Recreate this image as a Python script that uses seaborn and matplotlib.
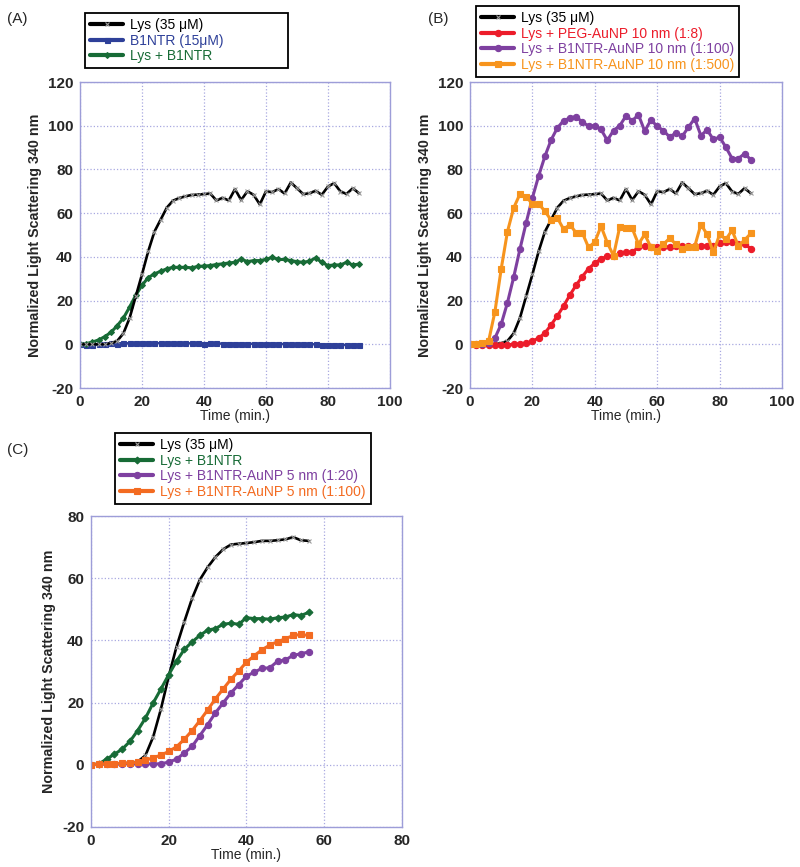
# Lysozyme aggregation kinetics, panels A-C
import matplotlib
matplotlib.use("Agg")
import matplotlib.pyplot as plt
import seaborn as sns

sns.set_style("white")
plt.rcParams['font.family'] = ['Liberation Sans', 'DejaVu Sans']
plt.rcParams['axes.unicode_minus'] = False

# time points (min.)
time_ab = list(range(0, 92, 2))
time_c = list(range(0, 58, 2))

# Panel A / B series
lys_35 = [0, 0, 0, 0, 0, 0.5, 1.5, 5, 12, 22,
          32, 42.5, 51.5, 57, 62.5, 65.7, 66.9, 67.7, 68.3, 68.5,
          68.7, 69, 65.8, 67, 65.8, 71, 66, 70, 68.4, 64,
          70, 69.6, 71, 69, 74, 71.4, 68.7, 69.1, 70.2, 68.4,
          72.2, 73.7, 69.9, 68.8, 71.4, 69.1]
b1ntr = [0, -0.4, -0.3, 0, 0.2, 0.4, 0.3, 0.4, 0.5, 0.5,
         0.7, 0.6, 0.5, 0.5, 0.4, 0.4, 0.4, 0.5, 0.4, 0.5,
         0.3, 0.5, 0.4, 0.3, 0.3, 0.2, 0.2, 0.2, 0.2, 0.1,
         0.1, 0.2, 0.1, 0.1, 0, 0, 0, 0, 0, -0.1,
         -0.2, -0.2, -0.3, -0.3, -0.2, -0.3]
lys_b1ntr = [0, 0.3, 1, 2, 3.5, 5.5, 8.5, 12, 17, 22.5,
             27, 30.5, 32.2, 33.4, 34.5, 35.2, 35.2, 35.2, 35, 35.6,
             35.8, 36, 36.5, 36.8, 37.2, 37.5, 39, 37.8, 38.3, 38.3,
             38.8, 39.8, 38.8, 38.8, 38.3, 37.8, 37.5, 38, 39.5, 37.5,
             36, 36.3, 36.3, 37.5, 36.3, 36.7]
lys_peg = [0, -0.3, -0.5, -0.5, -0.5, -0.4, -0.2, 0, 0.2, 0.5,
           1.4, 2.9, 5.1, 8.9, 13, 17.5, 22.5, 27, 31, 34.6,
           37.1, 39.1, 40.2, 40.3, 41.6, 42, 42.3, 44.3, 45, 44.3,
           44.5, 44.3, 44.7, 44.8, 45, 45, 45, 45, 45, 45,
           46.5, 47, 47, 45.8, 45.8, 43.8]
lys_np10_100 = [0, 0, 0, 0.5, 2.9, 9.2, 19, 30.7, 43.5, 55.6,
                67, 77, 86, 93.5, 99, 102.3, 103.5, 104.2, 101.6, 99.9,
                100, 98.3, 93.3, 97.8, 100, 104.5, 102.3, 105, 97.5, 102.7,
                99.7, 97.8, 94.8, 96.7, 95.1, 99.3, 103.3, 95.5, 98.1, 93.7,
                94.8, 90.2, 85, 85, 87.2, 84.5]
lys_np10_500 = [0, 0, 0.5, 1.7, 15, 34.5, 51.5, 62.4, 68.7, 67.6,
                64.2, 64.3, 60.9, 56.8, 57.9, 52.6, 54.8, 51, 51, 44.3,
                46.8, 54, 46.5, 40.5, 53.8, 53.3, 53, 45.8, 50.3, 44.3,
                42.8, 45.8, 48.5, 45.8, 43.5, 44.3, 44.7, 54.8, 50.3, 42,
                50.3, 48, 52.1, 45, 47.7, 50.7]

# Panel C series
lys_35_c = [0, 0.3, 0.3, 0.4, 0.5, 0.6, 1, 3, 9, 18,
            28.5, 38, 46, 53.5, 59.5, 63.5, 66.8, 69.3, 70.8, 71.1,
            71.3, 71.6, 72, 72, 72.2, 72.5, 73.2, 72.2, 72]
lys_b1ntr_c = [0, 0.3, 1.8, 3.4, 5, 7.5, 11, 15, 19.9, 24.4,
               29, 33.3, 37.1, 39.5, 41.6, 43.3, 43.8, 45.2, 45.5, 45.2,
               47.3, 47, 47, 46.8, 47.3, 47.5, 48.3, 48, 49]
lys_np5_20 = [0, 0.2, 0.3, 0.3, 0.3, 0.3, 0.3, 0.3, 0.3, 0.3,
              0.9, 1.8, 3.8, 5.9, 9.4, 12.9, 16.7, 19.9, 23.1, 25.8,
              28.5, 29.8, 31, 31.2, 33.3, 33.7, 35.2, 35.7, 36.3]
lys_np5_100 = [0, 0.2, 0.3, 0.4, 0.5, 0.6, 0.8, 1.4, 2.3, 3.1,
               4.3, 5.8, 8.2, 11, 14.2, 17.6, 21.2, 24.4, 27.5, 30.2,
               33, 35.1, 37, 38.5, 39.6, 40.5, 41.6, 41.9, 41.6]

BLACK = "#000000"
BLUE = "#2e4099"
GREEN = "#176b36"
RED = "#ec1c2a"
PURPLE = "#7e40a0"
ORANGE_B = "#f7941d"
ORANGE_C = "#f36b21"


def draw(ax, t, y, color, marker, label, ms=4.5, lw=2.2, mec=None):
    sns.lineplot(x=t, y=y, ax=ax, color=color, marker=marker, markersize=ms,
                 linewidth=lw, markeredgecolor=mec or color, markeredgewidth=0.8,
                 label=label)


def draw_lys(ax, t, y):
    draw(ax, t, y, BLACK, 'x', 'Lys (35 \u03bcM)', ms=3.5, lw=1.9, mec='#9a9a9a')


def style_axis(ax, xmax, ymin, ymax):
    ax.set_xlim(0, xmax)
    ax.set_ylim(ymin, ymax)
    ax.set_xticks(range(0, xmax + 1, 20))
    ax.set_yticks(range(ymin, ymax + 1, 20))
    ax.grid(True, color='#a8a8e0', linestyle=':', linewidth=0.9)
    for s in ax.spines.values():
        s.set_color('#9d9dd8')
        s.set_linewidth(1)
    ax.tick_params(length=0, labelsize=11, pad=5)
    for lbl in ax.get_xticklabels() + ax.get_yticklabels():
        lbl.set_fontweight('bold')
    ax.set_xlabel('Time (min.)', fontsize=10, labelpad=0)
    ax.set_ylabel('Normalized Light Scattering 340 nm', fontsize=10.3,
                  fontweight='bold', labelpad=4)


def place_legend(ax, fig, x, y, width=None, order=None):
    handles, labels = ax.get_legend_handles_labels()
    if order is not None:
        handles = [handles[i] for i in order]
        labels = [labels[i] for i in order]
    ax.get_legend().remove()
    kw = dict(loc='upper left', bbox_to_anchor=(x, y))
    if width is not None:
        kw = dict(loc='upper left', bbox_to_anchor=(x, y - 0.1, width, 0.1),
                  mode='expand')
    leg = ax.legend(handles, labels, bbox_transform=fig.transFigure,
                    borderaxespad=0, fontsize=10, frameon=True, fancybox=False,
                    framealpha=1, edgecolor='black', handlelength=2.4,
                    handletextpad=0.5, labelspacing=0.12, borderpad=0.35, **kw)
    leg.get_frame().set_linewidth(1.3)
    for txt, line in zip(leg.get_texts(), leg.get_lines()):
        txt.set_color(line.get_color())
        line.set_linewidth(3)
    return leg


fig = plt.figure(figsize=(8, 8.67), dpi=100)
W, H = 800, 867

# (A) - Lys drawn last so it sits on top, listed first in the legend
ax_a = fig.add_axes([80 / W, 1 - 388 / H, 310 / W, 306 / H])
draw(ax_a, time_ab, b1ntr, BLUE, 's', 'B1NTR (15\u03bcM)', ms=3.6, lw=1.8)
draw(ax_a, time_ab, lys_b1ntr, GREEN, 'D', 'Lys + B1NTR', ms=3)
draw_lys(ax_a, time_ab, lys_35)
style_axis(ax_a, 100, -20, 120)
place_legend(ax_a, fig, 85 / W, 1 - 13 / H, width=203 / W, order=[2, 0, 1])

# (B)
ax_b = fig.add_axes([470 / W, 1 - 388 / H, 312 / W, 306 / H])
draw_lys(ax_b, time_ab, lys_35)
draw(ax_b, time_ab, lys_peg, RED, 'o', 'Lys + PEG-AuNP 10 nm (1:8)', ms=4.5)
draw(ax_b, time_ab, lys_np10_100, PURPLE, 'o', 'Lys + B1NTR-AuNP 10 nm (1:100)', ms=4.5)
draw(ax_b, time_ab, lys_np10_500, ORANGE_B, 's', 'Lys + B1NTR-AuNP 10 nm (1:500)', ms=5)
style_axis(ax_b, 100, -20, 120)
place_legend(ax_b, fig, 476 / W, 1 - 6 / H)

# (C)
ax_c = fig.add_axes([91 / W, 1 - 827 / H, 311 / W, 311 / H])
draw_lys(ax_c, time_c, lys_35_c)
draw(ax_c, time_c, lys_b1ntr_c, GREEN, 'D', 'Lys + B1NTR', ms=3.5)
draw(ax_c, time_c, lys_np5_20, PURPLE, 'o', 'Lys + B1NTR-AuNP 5 nm (1:20)', ms=4.5)
draw(ax_c, time_c, lys_np5_100, ORANGE_C, 's', 'Lys + B1NTR-AuNP 5 nm (1:100)', ms=5)
style_axis(ax_c, 80, -20, 80)
place_legend(ax_c, fig, 115 / W, 1 - 433 / H)

fig.text(7 / W, 1 - 19 / H, '(A)', fontsize=11, va='center')
fig.text(428 / W, 1 - 19 / H, '(B)', fontsize=11, va='center')
fig.text(7 / W, 1 - 450 / H, '(C)', fontsize=11, va='center')

fig.savefig('out.png', dpi=100)
